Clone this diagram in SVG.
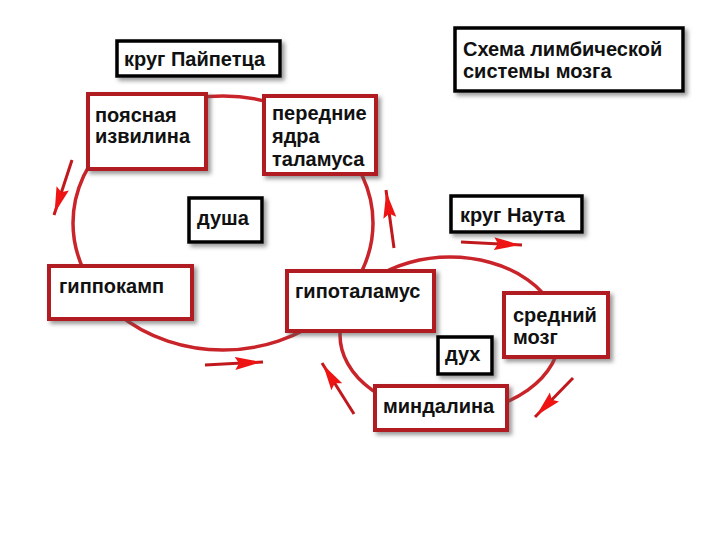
<svg xmlns="http://www.w3.org/2000/svg" width="720" height="540" viewBox="0 0 720 540">
<style>
.rb{fill:#fff;stroke:#b01e22;stroke-width:4;filter:url(#sh)}
.bb{fill:#fff;stroke:#000;stroke-width:3.5;filter:url(#sh)}
.t{font-family:"Liberation Sans",Arial,sans-serif;font-size:20px;font-weight:bold;fill:#111}
.loop{fill:none;stroke:#c8242a;stroke-width:3.5}
.arr{fill:none;stroke:#c0181c;stroke-width:3;marker-end:url(#ah)}
</style>
<defs>
<filter id="sh" x="-20%" y="-20%" width="140%" height="150%">
<feDropShadow dx="3" dy="3" stdDeviation="2" flood-color="#555" flood-opacity="0.6"/>
</filter>
<marker id="ah" viewBox="0 0 26 14" refX="28" refY="7" markerWidth="26" markerHeight="14" orient="auto" markerUnits="userSpaceOnUse">
<path d="M0,0.5 L26,7 L0,13.5 L4,7 Z" fill="#ee1414"/>
</marker>
</defs>
<rect width="720" height="540" fill="#fff"/>
<g id="connectors">
<ellipse class="loop" cx="223" cy="223" rx="150" ry="127"/>
<ellipse class="loop" cx="450" cy="335" rx="110" ry="78"/>
<path class="arr" d="M72,160 L54,215"/>
<path class="arr" d="M205,365 L263,362"/>
<path class="arr" d="M394,248 L386,190"/>
<path class="arr" d="M461,242 L522,245"/>
<path class="arr" d="M354,414 L322,363"/>
<path class="arr" d="M573,378 L535,417"/>
</g>
<g id="title">
<rect class="bb" x="455" y="28" width="228" height="63"/>
<text class="t" x="463" y="56">Схема лимбической</text>
<text class="t" x="463" y="78">системы мозга</text>
</g>
<g id="krug-papez">
<rect class="bb" x="117" y="41" width="163" height="35"/>
<text class="t" x="124" y="66">круг Пайпетца</text>
</g>
<g id="poyasnaya">
<rect class="rb" x="88" y="94" width="118" height="75"/>
<text class="t" x="95" y="122">поясная</text>
<text class="t" x="95" y="143">извилина</text>
</g>
<g id="perednie">
<rect class="rb" x="264" y="96" width="112" height="78"/>
<text class="t" x="272" y="120">передние</text>
<text class="t" x="272" y="143">ядра</text>
<text class="t" x="272" y="166">таламуса</text>
</g>
<g id="dusha">
<rect class="bb" x="189" y="198" width="73" height="44"/>
<text class="t" x="197" y="225">душа</text>
</g>
<g id="gippokamp">
<rect class="rb" x="49" y="266" width="143" height="53"/>
<text class="t" x="59" y="293">гиппокамп</text>
</g>
<g id="gipotalamus">
<rect class="rb" x="287" y="271" width="147" height="60"/>
<text class="t" x="295" y="298">гипоталамус</text>
</g>
<g id="krug-nauta">
<rect class="bb" x="451" y="196" width="131" height="36"/>
<text class="t" x="460" y="222">круг Наута</text>
</g>
<g id="sredniy">
<rect class="rb" x="504" y="293" width="104" height="64"/>
<text class="t" x="513" y="322">средний</text>
<text class="t" x="513" y="344">мозг</text>
</g>
<g id="duh">
<rect class="bb" x="438" y="337" width="54" height="37"/>
<text class="t" x="445" y="361">дух</text>
</g>
<g id="mindalina">
<rect class="rb" x="375" y="386" width="132" height="44"/>
<text class="t" x="383" y="413">миндалина</text>
</g>
</svg>
